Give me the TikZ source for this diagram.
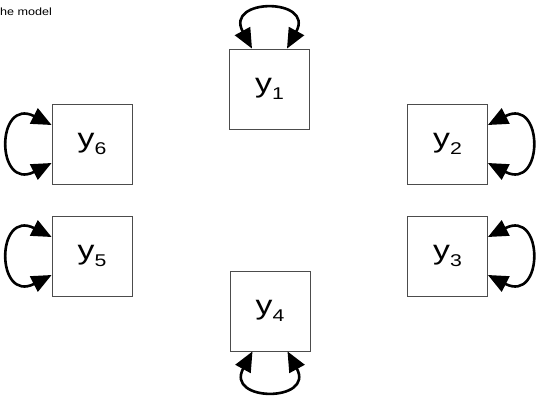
\documentclass[tikz,border=0pt]{standalone}
\usepackage{fontspec}
\setmainfont{Liberation Sans}
\usetikzlibrary{arrows.meta}
\newcommand{\yvar}[1]{\scalebox{1.25}[1]{\fontsize{27}{27}\selectfont y\raisebox{-7pt}{\fontsize{17}{17}\selectfont #1}}}
\begin{document}
\begin{tikzpicture}[x=1pt,y=1pt,
  var/.style={draw=black!70, line width=0.8pt, minimum width=80pt, minimum height=80pt, inner sep=0pt},
  loopline/.style={line width=2.6pt, {Triangle[length=20pt,width=17pt]}-{Triangle[length=20pt,width=17pt]}}
]
\useasboundingbox (0,0) rectangle (537,-400);
\node[anchor=base west, inner sep=0pt] (title) at (-7.7,-15) {\scalebox{1.2}[1]{\fontsize{10.5}{12}\selectfont The model}};
\node[var] (y1) at (269.5,-89) {\yvar{1}};
\node[var] (y2) at (447.5,-144) {\yvar{2}};
\node[var] (y3) at (447.5,-256) {\yvar{3}};
\node[var] (y4) at (270,-311) {\yvar{4}};
\node[var] (y5) at (92,-256) {\yvar{5}};
\node[var] (y6) at (92,-144) {\yvar{6}};
\draw[loopline] ([xshift=-17.5pt]y1.north) .. controls +(118.5:58pt) and +(61.5:58pt) .. ([xshift=17.5pt]y1.north);
\draw[loopline] ([xshift=-17.5pt]y4.south) .. controls +(241.5:58pt) and +(298.5:58pt) .. ([xshift=17.5pt]y4.south);
\draw[loopline] ([yshift=19pt]y2.east) .. controls +(27:63pt) and +(-27:63pt) .. ([yshift=-19pt]y2.east);
\draw[loopline] ([yshift=19pt]y3.east) .. controls +(27:63pt) and +(-27:63pt) .. ([yshift=-19pt]y3.east);
\draw[loopline] ([yshift=19pt]y5.west) .. controls +(153:63pt) and +(207:63pt) .. ([yshift=-19pt]y5.west);
\draw[loopline] ([yshift=19pt]y6.west) .. controls +(153:63pt) and +(207:63pt) .. ([yshift=-19pt]y6.west);
\end{tikzpicture}
\end{document}
